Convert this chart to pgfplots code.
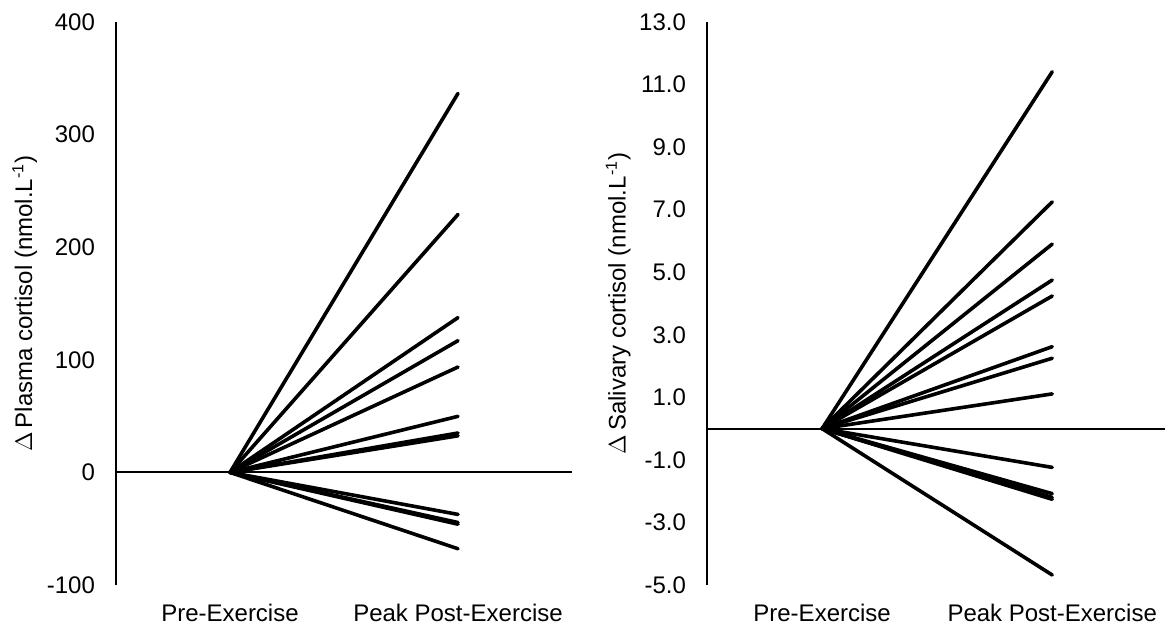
\documentclass[border=0pt]{standalone}
\usepackage{fontspec}
\setmainfont{Liberation Sans}
\usepackage{pgfplots}
\pgfplotsset{compat=1.18}
\begin{document}
\begin{tikzpicture}
\useasboundingbox (0,0) rectangle (582.5pt,314pt);
\pgfplotsset{
  panel/.style={
    scale only axis, anchor=south west,
    axis x line*=bottom, axis y line*=left,
    x axis line style={draw=none},
    y axis line style={line width=1pt, black},
    major tick length=0pt,
    xtick={0,1}, xticklabels={Pre-Exercise, Peak Post-Exercise},
    /pgf/number format/assume math mode=true,
    tick label style={font=\fontsize{12}{14}\selectfont, black},
    xticklabel style={yshift=-6pt},
    yticklabel style={xshift=-7pt},
    clip=false,
  },
  dl/.style={black, line width=1.8pt, line cap=round, no markers},
}
\begin{axis}[panel, at={(58pt,21.5pt)}, width=228pt, height=281.5pt,
  xmin=-0.5, xmax=1.5, ymin=-100, ymax=400, ytick={-100,0,...,400},
  every axis y label/.style={at={(axis description cs:-0.2,0.5)}, rotate=90, anchor=center, font=\fontsize{12}{14}\selectfont},
  ylabel={$\Delta$\,Plasma cortisol (nmol.L\textsuperscript{-1})}]
\addplot[black, line width=1pt, forget plot] coordinates {(-0.5,0) (1.5,0)};
\addplot[dl] coordinates {(0,0) (1,336.6)};
\addplot[dl] coordinates {(0,0) (1,229.1)};
\addplot[dl] coordinates {(0,0) (1,137.5)};
\addplot[dl] coordinates {(0,0) (1,117.0)};
\addplot[dl] coordinates {(0,0) (1,93.6)};
\addplot[dl] coordinates {(0,0) (1,49.8)};
\addplot[dl] coordinates {(0,0) (1,35.0)};
\addplot[dl] coordinates {(0,0) (1,32.5)};
\addplot[dl] coordinates {(0,0) (1,-37.3)};
\addplot[dl] coordinates {(0,0) (1,-44.5)};
\addplot[dl] coordinates {(0,0) (1,-46.0)};
\addplot[dl] coordinates {(0,0) (1,-67.8)};
\end{axis}
\begin{axis}[panel, at={(353.5pt,21.5pt)}, width=229pt, height=281.5pt,
  xmin=-0.5, xmax=1.49, ymin=-5, ymax=13, ytick={-5,-3,...,13},
  yticklabel style={/pgf/number format/.cd, fixed, fixed zerofill, precision=1},
  every axis y label/.style={at={(axis description cs:-0.194,0.5)}, rotate=90, anchor=center, font=\fontsize{12}{14}\selectfont},
  ylabel={$\Delta$\,Salivary cortisol (nmol.L\textsuperscript{-1})}]
\addplot[black, line width=1pt, forget plot] coordinates {(-0.5,0) (1.49,0)};
\addplot[dl] coordinates {(0,0) (1,11.41)};
\addplot[dl] coordinates {(0,0) (1,7.25)};
\addplot[dl] coordinates {(0,0) (1,5.90)};
\addplot[dl] coordinates {(0,0) (1,4.75)};
\addplot[dl] coordinates {(0,0) (1,4.24)};
\addplot[dl] coordinates {(0,0) (1,2.62)};
\addplot[dl] coordinates {(0,0) (1,2.25)};
\addplot[dl] coordinates {(0,0) (1,1.11)};
\addplot[dl] coordinates {(0,0) (1,-1.24)};
\addplot[dl] coordinates {(0,0) (1,-2.08)};
\addplot[dl] coordinates {(0,0) (1,-2.20)};
\addplot[dl] coordinates {(0,0) (1,-2.26)};
\addplot[dl] coordinates {(0,0) (1,-4.68)};
\end{axis}
\end{tikzpicture}
\end{document}
